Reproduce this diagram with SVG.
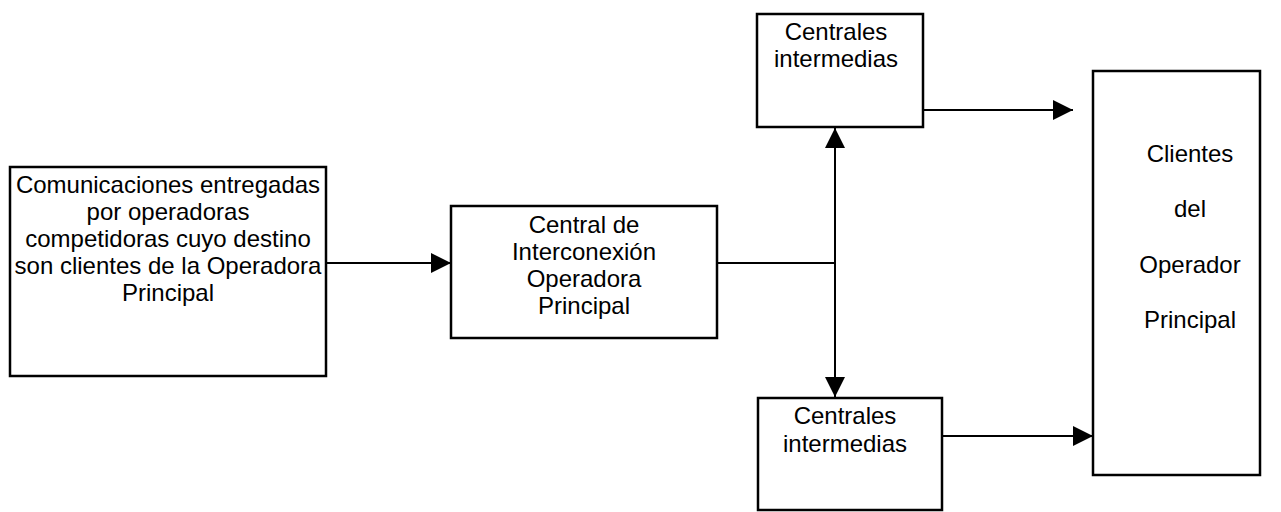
<svg xmlns="http://www.w3.org/2000/svg" width="1281" height="512" viewBox="0 0 1281 512">
<style>
.box{fill:#fff;stroke:#000;stroke-width:2.5}
.t{font-family:"Liberation Sans",Arial,sans-serif;font-size:24px;fill:#000;text-anchor:middle}
.c{fill:none;stroke:#000;stroke-width:2}
</style>
<defs>
<marker id="ah" viewBox="0 0 20 20" refX="20" refY="10" markerWidth="20" markerHeight="20" markerUnits="userSpaceOnUse" orient="auto">
<path d="M0,0 L20,10 L0,20 Z" fill="#000"/>
</marker>
</defs>
<rect width="1281" height="512" fill="#fff"/>
<g id="connectors">
<line class="c" x1="327" y1="263" x2="451" y2="263" marker-end="url(#ah)"/>
<line class="c" x1="718" y1="263" x2="835" y2="263"/>
<line class="c" x1="835" y1="263" x2="835" y2="128" marker-end="url(#ah)"/>
<line class="c" x1="835" y1="263" x2="835" y2="397" marker-end="url(#ah)"/>
<line class="c" x1="924" y1="110" x2="1073" y2="110" marker-end="url(#ah)"/>
<line class="c" x1="943" y1="436" x2="1093" y2="436" marker-end="url(#ah)"/>
</g>
<g id="origen">
<rect class="box" x="10" y="167" width="316" height="209"/>
<text class="t" x="168" y="193">Comunicaciones entregadas</text>
<text class="t" x="168" y="220">por operadoras</text>
<text class="t" x="168" y="247">competidoras cuyo destino</text>
<text class="t" x="168" y="274">son clientes de la Operadora</text>
<text class="t" x="168" y="301">Principal</text>
</g>
<g id="central">
<rect class="box" x="451" y="206" width="266" height="132"/>
<text class="t" x="584" y="233">Central de</text>
<text class="t" x="584" y="260">Interconexión</text>
<text class="t" x="584" y="287">Operadora</text>
<text class="t" x="584" y="314">Principal</text>
</g>
<g id="intermedias-sup">
<rect class="box" x="757" y="14" width="166" height="113"/>
<text class="t" x="836" y="40">Centrales</text>
<text class="t" x="836" y="67">intermedias</text>
</g>
<g id="intermedias-inf">
<rect class="box" x="758" y="398" width="184" height="112"/>
<text class="t" x="845" y="424">Centrales</text>
<text class="t" x="845" y="452">intermedias</text>
</g>
<g id="clientes">
<rect class="box" x="1093" y="71" width="167" height="404"/>
<text class="t" x="1190" y="162">Clientes</text>
<text class="t" x="1190" y="217">del</text>
<text class="t" x="1190" y="273">Operador</text>
<text class="t" x="1190" y="328">Principal</text>
</g>
</svg>
